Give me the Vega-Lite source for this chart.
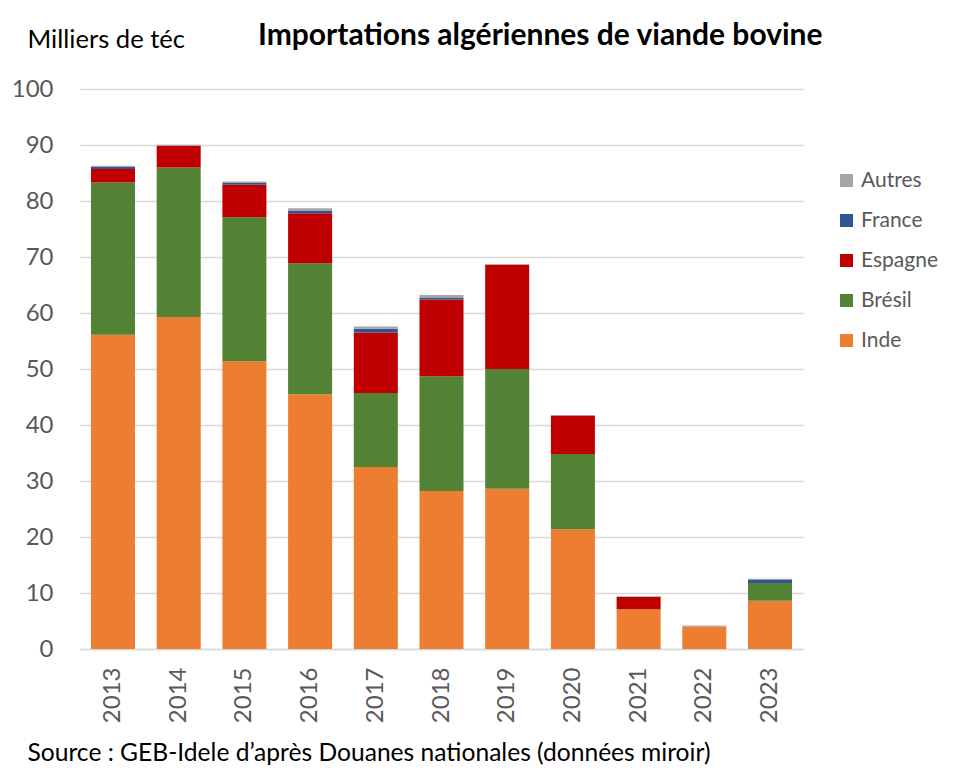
{
  "$schema": "https://vega.github.io/schema/vega-lite/v6.json",
  "width": 723,
  "height": 560,
  "autosize": "none",
  "padding": {"top": 89, "left": 80, "right": 168, "bottom": 124},
  "background": "white",
  "title": {
    "text": "Importations algériennes de viande bovine",
    "anchor": "start",
    "frame": "group",
    "dx": 178,
    "dy": 34,
    "fontSize": 30,
    "fontWeight": "bold",
    "font": "Lato",
    "color": "#000000",
    "offset": 10
  },
  "config": {
    "font": "Lato",
    "view": {"stroke": null}
  },
  "data": {
    "values": [
      {"annee": "2013", "pays": "Inde", "valeur": 56.1},
      {"annee": "2013", "pays": "Brésil", "valeur": 27.2},
      {"annee": "2013", "pays": "Espagne", "valeur": 2.4},
      {"annee": "2013", "pays": "France", "valeur": 0.4},
      {"annee": "2013", "pays": "Autres", "valeur": 0.2},
      {"annee": "2014", "pays": "Inde", "valeur": 59.3},
      {"annee": "2014", "pays": "Brésil", "valeur": 26.7},
      {"annee": "2014", "pays": "Espagne", "valeur": 3.8},
      {"annee": "2014", "pays": "France", "valeur": 0.05},
      {"annee": "2014", "pays": "Autres", "valeur": 0.2},
      {"annee": "2015", "pays": "Inde", "valeur": 51.4},
      {"annee": "2015", "pays": "Brésil", "valeur": 25.7},
      {"annee": "2015", "pays": "Espagne", "valeur": 5.8},
      {"annee": "2015", "pays": "France", "valeur": 0.3},
      {"annee": "2015", "pays": "Autres", "valeur": 0.3},
      {"annee": "2016", "pays": "Inde", "valeur": 45.5},
      {"annee": "2016", "pays": "Brésil", "valeur": 23.4},
      {"annee": "2016", "pays": "Espagne", "valeur": 8.9},
      {"annee": "2016", "pays": "France", "valeur": 0.4},
      {"annee": "2016", "pays": "Autres", "valeur": 0.5},
      {"annee": "2017", "pays": "Inde", "valeur": 32.5},
      {"annee": "2017", "pays": "Brésil", "valeur": 13.2},
      {"annee": "2017", "pays": "Espagne", "valeur": 10.8},
      {"annee": "2017", "pays": "France", "valeur": 0.7},
      {"annee": "2017", "pays": "Autres", "valeur": 0.4},
      {"annee": "2018", "pays": "Inde", "valeur": 28.2},
      {"annee": "2018", "pays": "Brésil", "valeur": 20.5},
      {"annee": "2018", "pays": "Espagne", "valeur": 13.7},
      {"annee": "2018", "pays": "France", "valeur": 0.3},
      {"annee": "2018", "pays": "Autres", "valeur": 0.5},
      {"annee": "2019", "pays": "Inde", "valeur": 28.6},
      {"annee": "2019", "pays": "Brésil", "valeur": 21.4},
      {"annee": "2019", "pays": "Espagne", "valeur": 18.6},
      {"annee": "2019", "pays": "France", "valeur": 0.0},
      {"annee": "2019", "pays": "Autres", "valeur": 0.15},
      {"annee": "2020", "pays": "Inde", "valeur": 21.4},
      {"annee": "2020", "pays": "Brésil", "valeur": 13.4},
      {"annee": "2020", "pays": "Espagne", "valeur": 6.9},
      {"annee": "2020", "pays": "France", "valeur": 0.0},
      {"annee": "2020", "pays": "Autres", "valeur": 0.1},
      {"annee": "2021", "pays": "Inde", "valeur": 7.1},
      {"annee": "2021", "pays": "Brésil", "valeur": 0.0},
      {"annee": "2021", "pays": "Espagne", "valeur": 2.2},
      {"annee": "2021", "pays": "France", "valeur": 0.0},
      {"annee": "2021", "pays": "Autres", "valeur": 0.1},
      {"annee": "2022", "pays": "Inde", "valeur": 4.0},
      {"annee": "2022", "pays": "Brésil", "valeur": 0.0},
      {"annee": "2022", "pays": "Espagne", "valeur": 0.0},
      {"annee": "2022", "pays": "France", "valeur": 0.0},
      {"annee": "2022", "pays": "Autres", "valeur": 0.2},
      {"annee": "2023", "pays": "Inde", "valeur": 8.6},
      {"annee": "2023", "pays": "Brésil", "valeur": 3.2},
      {"annee": "2023", "pays": "Espagne", "valeur": 0.0},
      {"annee": "2023", "pays": "France", "valeur": 0.5},
      {"annee": "2023", "pays": "Autres", "valeur": 0.25}
    ]
  },
  "transform": [
    {"calculate": "indexof(['Inde', 'Brésil', 'Espagne', 'France', 'Autres'], datum.pays)", "as": "ordre_pile"}
  ],
  "mark": {"type": "bar"},
  "encoding": {
    "x": {
      "field": "annee",
      "type": "ordinal",
      "scale": {"paddingInner": 0.33, "paddingOuter": 0.167},
      "axis": {
        "title": "Source : GEB-Idele d’après Douanes nationales (données miroir)",
        "titleX": -53,
        "titleY": 111,
        "titleAlign": "left",
        "titleAnchor": "start",
        "titleBaseline": "alphabetic",
        "titleFontSize": 24.6,
        "titleFontWeight": "normal",
        "titleColor": "#000000",
        "labelAngle": -90,
        "labelFontSize": 24,
        "labelColor": "#595959",
        "labelPadding": 18,
        "ticks": false,
        "domainColor": "#D9D9D9",
        "domainWidth": 1.5
      }
    },
    "y": {
      "field": "valeur",
      "type": "quantitative",
      "stack": "zero",
      "scale": {"domain": [0, 100], "nice": false},
      "axis": {
        "title": "Milliers de téc",
        "titleAngle": 0,
        "titleX": -53,
        "titleY": -42,
        "titleAlign": "left",
        "titleBaseline": "alphabetic",
        "titleFontSize": 25.6,
        "titleFontWeight": "normal",
        "titleColor": "#000000",
        "values": [0, 10, 20, 30, 40, 50, 60, 70, 80, 90, 100],
        "labelFontSize": 24,
        "labelColor": "#595959",
        "labelPadding": 27,
        "ticks": false,
        "domain": false,
        "gridColor": "#D9D9D9",
        "gridWidth": 1.5
      }
    },
    "order": {"field": "ordre_pile", "type": "quantitative", "sort": "ascending"},
    "color": {
      "field": "pays",
      "type": "nominal",
      "sort": ["Autres", "France", "Espagne", "Brésil", "Inde"],
      "scale": {
        "domain": ["Autres", "France", "Espagne", "Brésil", "Inde"],
        "range": ["#A5A5A5", "#2F5597", "#C00000", "#548235", "#ED7D31"]
      },
      "legend": {
        "title": null,
        "orient": "none",
        "legendX": 756,
        "legendY": 81,
        "symbolType": "square",
        "symbolSize": 169,
        "symbolStrokeWidth": 0,
        "labelFontSize": 21,
        "labelColor": "#595959",
        "labelOffset": 4,
        "rowPadding": 18
      }
    }
  }
}
